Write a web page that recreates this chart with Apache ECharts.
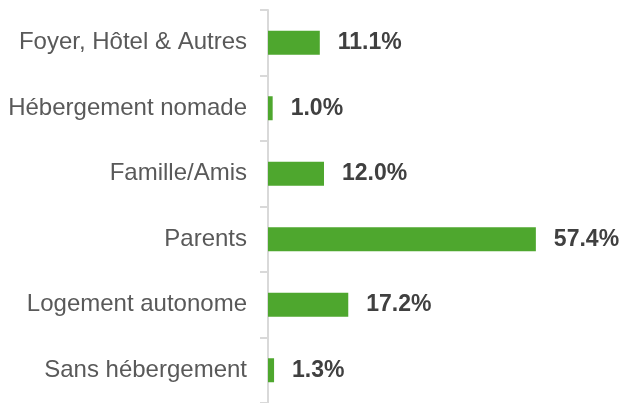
<!DOCTYPE html>
<html>
<head>
<meta charset="utf-8">
<script src="https://cdn.jsdelivr.net/npm/echarts@6/dist/echarts.min.js"></script>
<style>
html, body { margin: 0; padding: 0; background: #fff; }
#chart { width: 623px; height: 403px; }
</style>
</head>
<body>
<div id="chart"></div>
<script>
var categories = ['Foyer, Hôtel & Autres', 'Hébergement nomade', 'Famille/Amis', 'Parents', 'Logement autonome', 'Sans hébergement'];
var values = [11.1, 1.0, 12.0, 57.4, 17.2, 1.3];

var chart = echarts.init(document.getElementById('chart'));
chart.setOption({
	animation: false,
	grid: { left: 268, top: 10, width: 350, height: 394 },
	xAxis: {
		type: 'value',
		min: 0,
		max: 75,
		show: false
	},
	yAxis: {
		type: 'category',
		inverse: true,
		data: categories,
		axisLine: { lineStyle: { color: '#d9d9d9', width: 2 } },
		axisTick: { show: true, length: 8, lineStyle: { color: '#d9d9d9', width: 2 } },
		axisLabel: {
			margin: 21,
			color: '#595959',
			fontFamily: 'Liberation Sans',
			fontSize: 24,
			padding: [4, 0, 0, 0]
		}
	},
	series: [{
		type: 'bar',
		data: values,
		barWidth: 24,
		itemStyle: { color: '#4ea72e' },
		label: {
			show: true,
			position: 'right',
			distance: 18,
			color: '#404040',
			fontWeight: 'bold',
			fontFamily: 'Liberation Sans',
			fontSize: 23,
			padding: [4, 0, 0, 0],
			formatter: function(p) { return p.value.toFixed(1) + '%'; }
		}
	}]
});
</script>
</body>
</html>
